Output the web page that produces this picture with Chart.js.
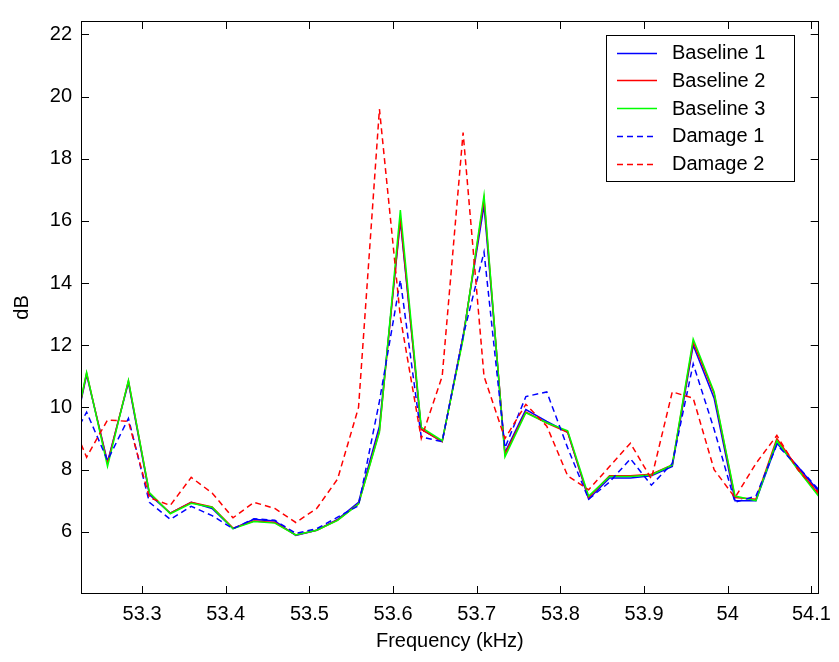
<!DOCTYPE html>
<html><head><meta charset="utf-8">
<script src="https://cdn.jsdelivr.net/npm/chart.js@4.4.0/dist/chart.umd.min.js"></script>
<style>html,body{margin:0;padding:0;background:#fff;}#wrap{width:839px;height:662px;}</style>
</head><body><div id="wrap"><canvas id="c" width="839" height="662"></canvas></div>
<script>
// Frequency samples (kHz)
const freq = [53.2087,53.2337,53.2587,53.2837,53.3087,53.3337,53.3587,53.3837,53.4087,53.4337,
  53.4587,53.4837,53.5087,53.5337,53.5587,53.5837,53.6087,53.6337,53.6587,53.6837,
  53.7087,53.7337,53.7587,53.7837,53.8087,53.8337,53.8587,53.8837,53.9087,53.9337,
  53.9587,53.9837,54.0087,54.0337,54.0587,54.0837,54.1087];
const baseline1 = [7.9,11.05,8.25,10.8,7.2,6.6,6.95,6.75,6.1,6.4,
  6.35,5.88,6.05,6.4,6.95,9.4,16.0,9.3,8.9,12.3,
  16.5,8.55,9.93,9.55,9.2,7.05,7.73,7.73,7.8,8.1,
  12.0,10.3,7.0,7.0,8.85,8.1,7.3];
const baseline2 = [7.9,11.1,8.2,10.85,7.25,6.6,6.95,6.8,6.12,6.35,
  6.3,5.9,6.05,6.38,6.9,9.25,16.1,9.3,8.9,12.25,
  16.7,8.5,9.85,9.5,9.2,7.1,7.8,7.8,7.85,8.15,
  12.1,10.45,7.1,7.05,9.0,8.05,7.2];
const baseline3 = [7.9,11.13,8.1,10.87,7.26,6.58,6.92,6.79,6.1,6.33,
  6.28,5.9,6.05,6.37,6.89,9.2,16.35,9.36,8.93,12.2,
  16.83,8.41,9.83,9.51,9.25,7.15,7.78,7.78,7.83,8.15,
  12.2,10.5,7.15,7.0,8.93,8.0,7.14];
const damage1 = [8.6,9.85,8.3,9.65,6.95,6.4,6.82,6.52,6.1,6.42,
  6.37,5.95,6.1,6.47,6.84,10.2,14.1,9.05,8.9,12.3,
  15.0,8.7,10.35,10.5,8.7,7.05,7.6,8.35,7.5,8.2,
  11.4,9.3,6.95,7.15,8.8,8.1,7.36];
const damage2 = [10.0,8.4,9.6,9.55,7.1,6.85,7.75,7.25,6.45,6.95,
  6.75,6.3,6.75,7.7,10.0,19.6,12.9,9.0,11.0,18.84,
  11.0,9.0,10.1,9.4,7.8,7.35,8.1,8.85,7.7,10.5,
  10.3,8.0,7.1,8.2,9.1,8.0,7.26];
const xTicks = [53.3,53.4,53.5,53.6,53.7,53.8,53.9,54.0,54.1];
const yTicks = [6,8,10,12,14,16,18,20,22];
const seriesNames = ['Baseline 1','Baseline 2','Baseline 3','Damage 1','Damage 2'];

const FONT = "'Liberation Sans', Arial, sans-serif";
const pts = arr => arr.map((v,i)=>({x:freq[i], y:v}));
const styles = [
  {c:'#0000ff', d:[]},{c:'#ff0000', d:[]},{c:'#00ff00', d:[]},
  {c:'#0000ff', d:[6,4]},{c:'#ff0000', d:[6,4]}
];
const seriesData = [baseline1, baseline2, baseline3, damage1, damage2];
const datasets = seriesData.map((arr,i)=>({
  label: seriesNames[i], data: pts(arr), borderColor: styles[i].c, borderDash: styles[i].d,
  borderWidth: 1.5, pointRadius: 0, tension: 0, fill: false, clip: 0, order: 5 - i
}));

const framePlugin = {
  id: 'frame',
  beforeDraw(chart){
    const ctx = chart.ctx; ctx.save(); ctx.fillStyle = '#fff';
    ctx.fillRect(0,0,chart.width,chart.height); ctx.restore();
  },
  afterDraw(chart){
    const ctx = chart.ctx, a = chart.chartArea, xs = chart.scales.x, ys = chart.scales.y;
    ctx.save();
    ctx.strokeStyle = '#000'; ctx.lineWidth = 1; ctx.setLineDash([]);
    ctx.strokeRect(Math.round(a.left)+0.5, Math.round(a.top)+0.5, Math.round(a.right-a.left)-1, Math.round(a.bottom-a.top)-1);
    const TL = 8;
    ctx.beginPath();
    xTicks.forEach(v=>{
      const px = Math.round(xs.getPixelForValue(v))+0.5;
      ctx.moveTo(px, a.bottom); ctx.lineTo(px, a.bottom-TL);
      ctx.moveTo(px, a.top); ctx.lineTo(px, a.top+TL);
    });
    yTicks.forEach(v=>{
      const py = Math.round(ys.getPixelForValue(v))+0.5;
      ctx.moveTo(a.left, py); ctx.lineTo(a.left+TL, py);
      ctx.moveTo(a.right, py); ctx.lineTo(a.right-TL, py);
    });
    ctx.stroke();
    // legend box
    const L = 606, T = 35, W = 188, H = 146;
    ctx.fillStyle = '#fff'; ctx.fillRect(L, T, W, H);
    ctx.strokeStyle = '#000'; ctx.lineWidth = 1;
    ctx.strokeRect(L+0.5, T+0.5, W, H);
    ctx.font = '20px ' + FONT; ctx.textBaseline = 'middle'; ctx.textAlign = 'left';
    chart.data.datasets.forEach((ds,i)=>{
      const y = 52.5 + i*27.75;
      ctx.strokeStyle = ds.borderColor; ctx.lineWidth = 1.5; ctx.setLineDash(ds.borderDash);
      ctx.beginPath(); ctx.moveTo(617, Math.round(y)+0.5); ctx.lineTo(657, Math.round(y)+0.5); ctx.stroke();
      ctx.setLineDash([]);
      ctx.fillStyle = '#000'; ctx.fillText(ds.label, 672, y+1);
    });
    ctx.restore();
  }
};

new Chart(document.getElementById('c'), {
  type: 'line',
  data: { datasets },
  options: {
    responsive: false, animation: false, devicePixelRatio: 1,
    layout: { padding: { top: 7, right: 13, left: 0, bottom: 0 } },
    plugins: { legend: { display: false }, tooltip: { enabled: false } },
    scales: {
      x: {
        type: 'linear', min: 53.227, max: 54.1087,
        afterBuildTicks: s => { s.ticks = xTicks.map(v=>({value:v})); },
        afterFit: s => { s.height = 68; },
        ticks: { callback: v => String(Number(v.toFixed(1))), font: { family: FONT, size: 20 }, color: '#000', padding: 8, maxRotation: 0, autoSkip: false },
        grid: { display: false, drawTicks: false }, border: { display: false },
        title: { display: true, text: 'Frequency (kHz)', font: { family: FONT, size: 20 }, color: '#000', padding: { top: 0, bottom: 9 } }
      },
      y: {
        type: 'linear', min: 4, max: 22.43,
        afterBuildTicks: s => { s.ticks = yTicks.map(v=>({value:v})); },
        afterFit: s => { s.width = 81; },
        ticks: { font: { family: FONT, size: 20 }, color: '#000', padding: 9, autoSkip: false },
        grid: { display: false, drawTicks: false }, border: { display: false },
        title: { display: true, text: 'dB', font: { family: FONT, size: 20 }, color: '#000', padding: { top: 10, bottom: 0 } }
      }
    }
  },
  plugins: [framePlugin]
});
</script></body></html>
